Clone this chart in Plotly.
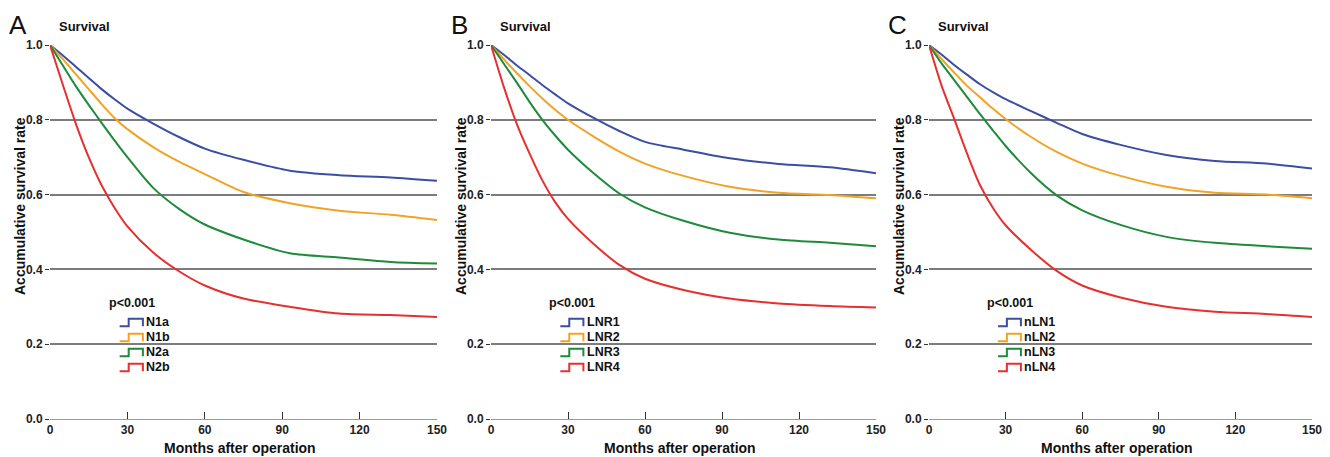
import plotly.graph_objects as go

# ---------------- data ----------------
months = [0, 5, 10, 15, 20, 25, 30, 40, 50, 60, 75, 93, 112, 132, 150]

panel_letters = ["A", "B", "C"]
labels_A = ["N1a", "N1b", "N2a", "N2b"]
labels_B = ["LNR1", "LNR2", "LNR3", "LNR4"]
labels_C = ["nLN1", "nLN2", "nLN3", "nLN4"]

N1a = [1.0, 0.972, 0.942, 0.912, 0.882, 0.855, 0.83, 0.79, 0.754, 0.723, 0.693, 0.664, 0.652, 0.646, 0.637]
N1b = [1.0, 0.962, 0.922, 0.882, 0.842, 0.805, 0.775, 0.727, 0.688, 0.655, 0.607, 0.577, 0.557, 0.546, 0.532]
N2a = [1.0, 0.945, 0.89, 0.84, 0.792, 0.745, 0.70, 0.618, 0.562, 0.52, 0.48, 0.443, 0.432, 0.42, 0.416]
N2b = [1.0, 0.893, 0.79, 0.70, 0.625, 0.565, 0.515, 0.445, 0.395, 0.357, 0.322, 0.30, 0.282, 0.278, 0.273]

LNR1 = [1.0, 0.974, 0.946, 0.92, 0.893, 0.868, 0.844, 0.805, 0.77, 0.741, 0.72, 0.697, 0.682, 0.673, 0.657]
LNR2 = [1.0, 0.962, 0.925, 0.89, 0.857, 0.827, 0.80, 0.755, 0.715, 0.683, 0.65, 0.621, 0.605, 0.599, 0.59]
LNR3 = [1.0, 0.95, 0.90, 0.848, 0.80, 0.758, 0.72, 0.657, 0.603, 0.566, 0.53, 0.498, 0.48, 0.471, 0.462]
LNR4 = [1.0, 0.888, 0.79, 0.71, 0.638, 0.58, 0.535, 0.468, 0.412, 0.375, 0.345, 0.322, 0.309, 0.302, 0.298]

nLN1 = [1.0, 0.974, 0.946, 0.92, 0.895, 0.874, 0.855, 0.823, 0.792, 0.762, 0.733, 0.706, 0.69, 0.683, 0.67]
nLN2 = [1.0, 0.962, 0.925, 0.89, 0.86, 0.83, 0.802, 0.754, 0.714, 0.683, 0.65, 0.621, 0.605, 0.60, 0.59]
nLN3 = [1.0, 0.95, 0.905, 0.86, 0.815, 0.772, 0.73, 0.657, 0.598, 0.558, 0.519, 0.487, 0.471, 0.462, 0.455]
nLN4 = [1.0, 0.89, 0.80, 0.708, 0.625, 0.565, 0.518, 0.452, 0.396, 0.357, 0.325, 0.30, 0.287, 0.281, 0.273]

x_ticks = [0, 30, 60, 90, 120, 150]
y_ticks = [0.0, 0.2, 0.4, 0.6, 0.8, 1.0]
p_text = "p<0.001"

# ---------------- styling ----------------
colors = ["#3b4ea3", "#f2a324", "#1d8b3b", "#e5302f"]
FONT = "Liberation Sans, Arial, sans-serif"

panels = [
    (labels_A, [N1a, N1b, N2a, N2b], [50, 437]),
    (labels_B, [LNR1, LNR2, LNR3, LNR4], [491, 876]),
    (labels_C, [nLN1, nLN2, nLN3, nLN4], [929, 1312]),
]

W, H = 1330, 457
y_dom = [38 / H, 412 / H]

fig = go.Figure()
annotations = []
shapes = []

for i, (labels, series, (px0, px1)) in enumerate(panels):
    sfx = "" if i == 0 else str(i + 1)
    xa, ya = "x" + sfx, "y" + sfx
    for lab, vals, col in zip(labels, series, colors):
        fig.add_trace(go.Scatter(
            x=months, y=vals, mode="lines", name=lab,
            line=dict(color=col, width=2, shape="spline", smoothing=0.8),
            xaxis=xa, yaxis=ya, showlegend=False, hoverinfo="skip"))

    dom = [px0 / W, px1 / W]
    common_tick = dict(family=FONT, size=12, color="#222222", weight="bold")
    fig.update_layout(**{
        "xaxis" + sfx: dict(
            domain=dom, range=[0, 150], tickvals=x_ticks, ticks="inside",
            ticklen=7, tickwidth=1.3, tickcolor="#333333", showgrid=False,
            zeroline=False, showline=True, linecolor="#9a9a9a", linewidth=1,
            tickfont=common_tick, anchor=ya, fixedrange=True, automargin=False),
        "yaxis" + sfx: dict(
            domain=y_dom, range=[0, 1], tickvals=y_ticks, tickformat=".1f",
            ticks="outside", ticklen=4, tickwidth=1.3, tickcolor="#333333",
            showgrid=True, gridcolor="#7c7c7c", gridwidth=1.7, zeroline=False,
            showline=False, tickfont=common_tick, anchor=xa, fixedrange=True,
            automargin=False),
    })

    # panel letter
    annotations.append(dict(
        text=panel_letters[i], x=(px0 - 32) / W, y=(H - 25) / H, xref="paper", yref="paper",
        xanchor="center", yanchor="middle", showarrow=False,
        font=dict(family=FONT, size=26, color="#111111")))
    # "Survival"
    annotations.append(dict(
        text="Survival", x=(px0 + 7) / W, y=(H - 26) / H, xref="paper", yref="paper",
        xanchor="left", yanchor="middle", showarrow=False,
        font=dict(family=FONT, size=13, color="#111111", weight="bold")))
    # y title
    annotations.append(dict(
        text="Accumulative survival rate", x=(px0 - 30) / W, y=(H - 206) / H,
        xref="paper", yref="paper", textangle=-90, xanchor="center", yanchor="middle",
        showarrow=False, font=dict(family=FONT, size=14, color="#111111", weight="bold")))
    # x title
    annotations.append(dict(
        text="Months after operation", x=(px0 + px1) / 2 / W - 4 / W, y=(H - 448) / H,
        xref="paper", yref="paper", xanchor="center", yanchor="middle", showarrow=False,
        font=dict(family=FONT, size=14, color="#111111", weight="bold")))
    # p-value
    annotations.append(dict(
        text=p_text, x=22, y=0.31, xref=xa, yref=ya, xanchor="left", yanchor="middle",
        showarrow=False, font=dict(family=FONT, size=12.5, color="#111111", weight="bold")))
    # legend entries
    for k, (lab, col) in enumerate(zip(labels, colors)):
        yc = 0.259 - 0.04 * k
        yb, yt = yc - 0.011, yc + 0.009
        x0, xm, x1 = 27.0, 30.5, 36.0
        shapes.append(dict(
            type="path", xref=xa, yref=ya,
            path=f"M {x0},{yb} L {xm},{yb} L {xm},{yt} L {x1},{yt} L {x1},{yb}",
            line=dict(color=col, width=2)))
        annotations.append(dict(
            text=lab, x=36.6, y=yc, xref=xa, yref=ya, xanchor="left", yanchor="middle",
            showarrow=False, font=dict(family=FONT, size=12.5, color="#111111", weight="bold")))

fig.update_layout(
    width=W, height=H, margin=dict(l=0, r=0, t=0, b=0, autoexpand=False),
    paper_bgcolor="white", plot_bgcolor="white",
    annotations=annotations, shapes=shapes, showlegend=False)

fig.write_html("out.html", config={"displayModeBar": False},
               post_script="document.body.style.margin='0';document.body.style.overflow='hidden';")
